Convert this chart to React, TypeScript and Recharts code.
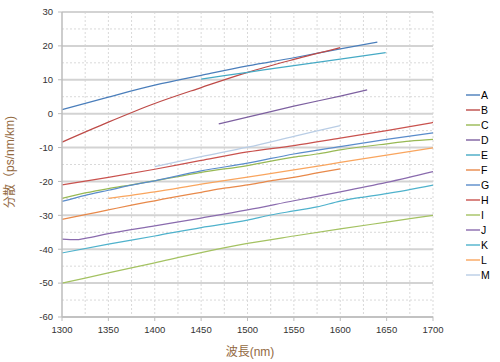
import { LineChart, Line, XAxis, YAxis, CartesianGrid } from 'recharts';

// wavelength (nm) / dispersion (ps/nm/km) pairs
const A_PTS = [[1300, 1.2], [1350, 4.9], [1400, 8.4], [1450, 11.3], [1500, 14.1], [1550, 16.5], [1600, 19.1], [1640, 21.1]];
const B_PTS = [[1300, -8.4], [1350, -2.5], [1400, 3.0], [1450, 7.7], [1500, 12.2], [1550, 16], [1600, 19.5]];
const C_PTS = [[1300, -25], [1325, -23.4], [1350, -22.1], [1375, -21], [1400, -19.8], [1450, -17.3], [1500, -15.3], [1550, -12.8], [1575, -11.9], [1600, -10.7], [1650, -8.9], [1675, -8.1], [1700, -7.6]];
const D_PTS = [[1469, -3], [1500, -1], [1550, 2.2], [1600, 5.2], [1629, 7]];
const E_PTS = [[1450, 10.2], [1500, 12.2], [1550, 14.2], [1600, 16.1], [1649, 18]];
const F_PTS = [[1300, -31.2], [1325, -29.8], [1350, -28.4], [1375, -27], [1400, -25.7], [1425, -24.4], [1450, -23.2], [1475, -22], [1500, -21], [1525, -19.8], [1550, -18.8], [1575, -17.5], [1600, -16.3]];
const G_PTS = [[1300, -25.9], [1325, -24.1], [1350, -22.6], [1375, -21.1], [1400, -19.8], [1450, -16.9], [1500, -14.6], [1550, -11.9], [1600, -9.7], [1650, -7.6], [1700, -5.7]];
const H_PTS = [[1300, -21], [1350, -18.8], [1400, -16.4], [1450, -13.8], [1500, -11.3], [1550, -9.4], [1600, -7.2], [1650, -5], [1700, -2.6]];
const I_PTS = [[1300, -50], [1350, -47], [1400, -44], [1450, -41], [1500, -38.3], [1550, -36.1], [1600, -34], [1650, -32], [1700, -30]];
const J_PTS = [[1300, -37], [1315, -37.2], [1325, -36.8], [1350, -35.4], [1400, -33.1], [1450, -30.8], [1500, -28.4], [1550, -25.7], [1600, -23.1], [1650, -20.3], [1700, -17.1]];
const K_PTS = [[1300, -41.1], [1350, -38.5], [1400, -36.1], [1450, -33.6], [1500, -31.4], [1525, -29.9], [1550, -28.7], [1575, -27.5], [1600, -25.8], [1625, -24.6], [1650, -23.6], [1700, -21.1]];
const L_PTS = [[1350, -25], [1400, -23.1], [1450, -20.8], [1500, -18.7], [1550, -16.6], [1600, -14.4], [1650, -12.2], [1700, -10.1]];
const M_PTS = [[1400, -15.6], [1450, -12.7], [1500, -9.9], [1550, -6.7], [1600, -3.5]];

const NAMES = ['A', 'B', 'C', 'D', 'E', 'F', 'G', 'H', 'I', 'J', 'K', 'L', 'M'];
const POINTS = [A_PTS, B_PTS, C_PTS, D_PTS, E_PTS, F_PTS, G_PTS, H_PTS, I_PTS, J_PTS, K_PTS, L_PTS, M_PTS];
const COLORS = [
  '#4a7ebb', '#be4b48', '#98b954', '#7d60a0', '#46aac5', '#e8894a',
  '#5a8ccb', '#c9524e', '#a4c262', '#8a6bae', '#4fb2cc', '#f9a55e', '#b9cde5',
];

const X_TICKS = [1300, 1350, 1400, 1450, 1500, 1550, 1600, 1650, 1700];
const Y_TICKS = [-60, -50, -40, -30, -20, -10, 0, 10, 20, 30];
const Y_MINOR = [-55, -45, -35, -25, -15, -5, 5, 15, 25];
const X_MINOR = [1325, 1350, 1375, 1400, 1425, 1450, 1475, 1500, 1525, 1550, 1575, 1600, 1625, 1650, 1675, 1700];

const FONT = '"Liberation Sans", Arial, "Noto Sans CJK JP", sans-serif';
const TITLE_COLOR = '#93693f';

const series = NAMES.map((name, i) => ({
  name,
  color: COLORS[i],
  data: POINTS[i].map(([x, y]) => ({ x, y })),
}));

function LegendBox() {
  return (
    <div style={{ position: 'absolute', left: 466, top: 87, fontFamily: FONT, fontSize: 10.5, color: '#000' }}>
      {series.map((s) => (
        <div key={s.name} style={{ height: 15, display: 'flex', alignItems: 'center' }}>
          <div style={{ width: 14, height: 2, background: s.color, opacity: 0.7 }} />
          <span style={{ marginLeft: 1 }}>{s.name}</span>
        </div>
      ))}
    </div>
  );
}

export default function App() {
  return (
    <div style={{ position: 'absolute', left: 0, top: 0, width: 500, height: 362, background: '#fff' }}>
      <LineChart width={500} height={362} margin={{ top: 12, right: 67, bottom: 15, left: 0 }}>
        <CartesianGrid
          horizontal
          vertical
          horizontalValues={Y_MINOR}
          verticalValues={X_MINOR}
          stroke="#d9d9d9"
          strokeDasharray="2 2"
        />
        <CartesianGrid
          horizontal
          vertical={false}
          horizontalValues={Y_TICKS}
          stroke="#d3d3d3"
          strokeWidth={2}
        />
        <XAxis
          dataKey="x"
          type="number"
          domain={[1300, 1700]}
          ticks={X_TICKS}
          interval={0}
          allowDuplicatedCategory={false}
          height={30}
          tick={{ fill: '#333', fontSize: 9.5, fontFamily: FONT }}
          tickSize={4}
          tickMargin={5}
          axisLine={{ stroke: '#bdbdbd', strokeWidth: 1.5 }}
          tickLine={{ stroke: '#bdbdbd' }}
        />
        <YAxis
          type="number"
          domain={[-60, 30]}
          ticks={Y_TICKS}
          interval={0}
          width={62}
          tick={{ fill: '#333', fontSize: 9.5, fontFamily: FONT }}
          tickSize={4}
          tickMargin={5}
          axisLine={{ stroke: '#bdbdbd', strokeWidth: 1.5 }}
          tickLine={{ stroke: '#bdbdbd' }}
        />
        {series.map((s) => (
          <Line
            key={s.name}
            data={s.data}
            dataKey="y"
            name={s.name}
            type="monotone"
            stroke={s.color}
            strokeWidth={1.25}
            dot={false}
            isAnimationActive={false}
          />
        ))}
      </LineChart>
      <LegendBox />
      <div
        style={{
          position: 'absolute', left: 200, top: 342, width: 100, textAlign: 'center',
          fontFamily: FONT, fontSize: 12, color: TITLE_COLOR,
        }}
      >
        波長(nm)
      </div>
      <div
        style={{
          position: 'absolute', left: 10, top: 162, width: 120, height: 16, marginLeft: -60, marginTop: -8,
          transform: 'rotate(-90deg)', textAlign: 'center', whiteSpace: 'nowrap',
          fontFamily: FONT, fontSize: 12, color: TITLE_COLOR, lineHeight: '16px',
        }}
      >
        分散（ps/nm/km)
      </div>
    </div>
  );
}
